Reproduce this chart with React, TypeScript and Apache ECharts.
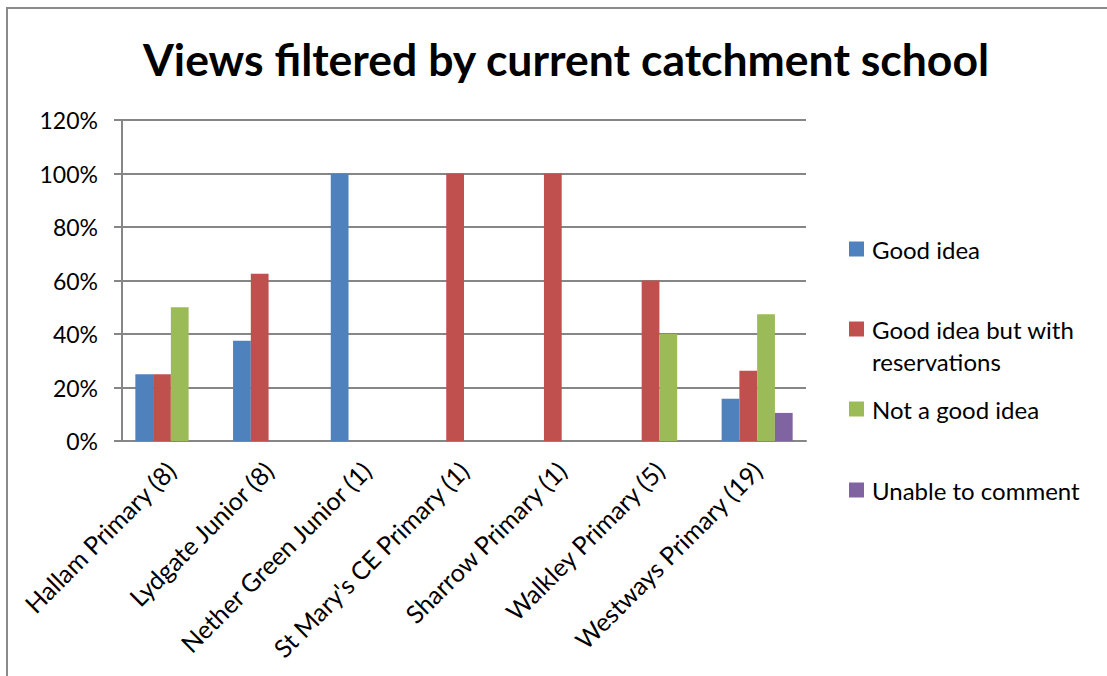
import React, { useEffect, useRef } from "react";
import * as echarts from "echarts";

const categories = [
  "Hallam Primary (8)",
  "Lydgate Junior (8)",
  "Nether Green Junior (1)",
  "St Mary's CE Primary (1)",
  "Sharrow Primary (1)",
  "Walkley Primary (5)",
  "Westways Primary (19)",
];
const goodIdea = [25, 37.5, 100, 0, 0, 0, 15.8];
const goodIdeaReservations = [25, 62.5, 0, 100, 100, 60, 26.3];
const notGoodIdea = [50, 0, 0, 0, 0, 40, 47.4];
const unableToComment = [0, 0, 0, 0, 0, 0, 10.5];
const yTicks = [0, 20, 40, 60, 80, 100, 120];

const seriesNames = [
  "Good idea",
  "Good idea but with reservations",
  "Not a good idea",
  "Unable to comment",
];
const seriesColors = ["#4F81BD", "#C0504D", "#9BBB59", "#8064A2"];
const seriesData = [goodIdea, goodIdeaReservations, notGoodIdea, unableToComment];
const legendCenters = [249, 329, 409, 490];

const FONT = "Lato, 'Open Sans', sans-serif";

export default function App() {
  const ref = useRef<HTMLDivElement>(null);
  useEffect(() => {
    if (!ref.current) return;
    const chart = echarts.init(ref.current, undefined, { renderer: "svg" });
    const legends = seriesNames.map((n, i) => ({
      data: [n],
      left: 844,
      top: legendCenters[i] - 20,
      orient: "vertical",
      itemWidth: 15,
      itemHeight: 15,
      icon: "rect",
      itemGap: 0,
      selectedMode: false,
      formatter: (name: string) =>
        name === "Good idea but with reservations" ? "Good idea but with" : name,
      textStyle: {
        fontFamily: FONT,
        fontSize: 24,
        color: "#000",
        lineHeight: 30,
        padding: [0, 0, 0, 3],
      },
    }));
    chart.setOption({
      animation: false,
      backgroundColor: "#fff",
      textStyle: { fontFamily: FONT },
      title: {
        text: "Views filtered by current catchment school",
        left: 561,
        textAlign: "center",
        top: 31,
        textStyle: {
          fontFamily: FONT,
          fontSize: 44.5,
          fontWeight: "bold",
          color: "#000",
        },
      },
      legend: legends,
      graphic: [
        {
          type: "rect",
          shape: { x: 7, y: 8, width: 1300, height: 900 },
          style: { fill: "none", stroke: "#8a8a8a", lineWidth: 2 },
          silent: true,
        },
        {
          type: "text",
          left: 872,
          top: 349,
          style: {
            text: "reservations",
            fontFamily: FONT,
            fontSize: 24,
            fill: "#000",
          },
        },
      ],
      grid: { left: 122, right: 301, top: 120, bottom: 235, containLabel: false },
      xAxis: {
        type: "category",
        data: categories,
        axisLine: { lineStyle: { color: "#868686", width: 2 } },
        axisTick: { length: 8, lineStyle: { color: "#868686", width: 2 } },
        axisLabel: {
          rotate: 45,
          interval: 0,
          margin: 25,
          fontFamily: FONT,
          fontSize: 25,
          color: "#000",
        },
      },
      yAxis: {
        type: "value",
        min: 0,
        max: 120,
        interval: 20,
        axisLine: { show: true, lineStyle: { color: "#868686", width: 2 } },
        axisTick: { show: true, length: 8, lineStyle: { color: "#868686", width: 2 } },
        splitLine: { lineStyle: { color: "#868686", width: 2 } },
        axisLabel: {
          formatter: (v: number) => (yTicks.includes(v) ? v + "%" : ""),
          margin: 24,
          fontFamily: FONT,
          fontSize: 23,
          color: "#000",
        },
      },
      series: seriesNames.map((n, i) => ({
        name: n,
        type: "bar",
        data: seriesData[i],
        barGap: "0%",
        barCategoryGap: "27.3%",
        itemStyle: { color: seriesColors[i] },
      })),
    });
    return () => chart.dispose();
  }, []);
  return (
    <div
      ref={ref}
      style={{ position: "fixed", left: 0, top: 0, width: 1107, height: 676 }}
    />
  );
}
